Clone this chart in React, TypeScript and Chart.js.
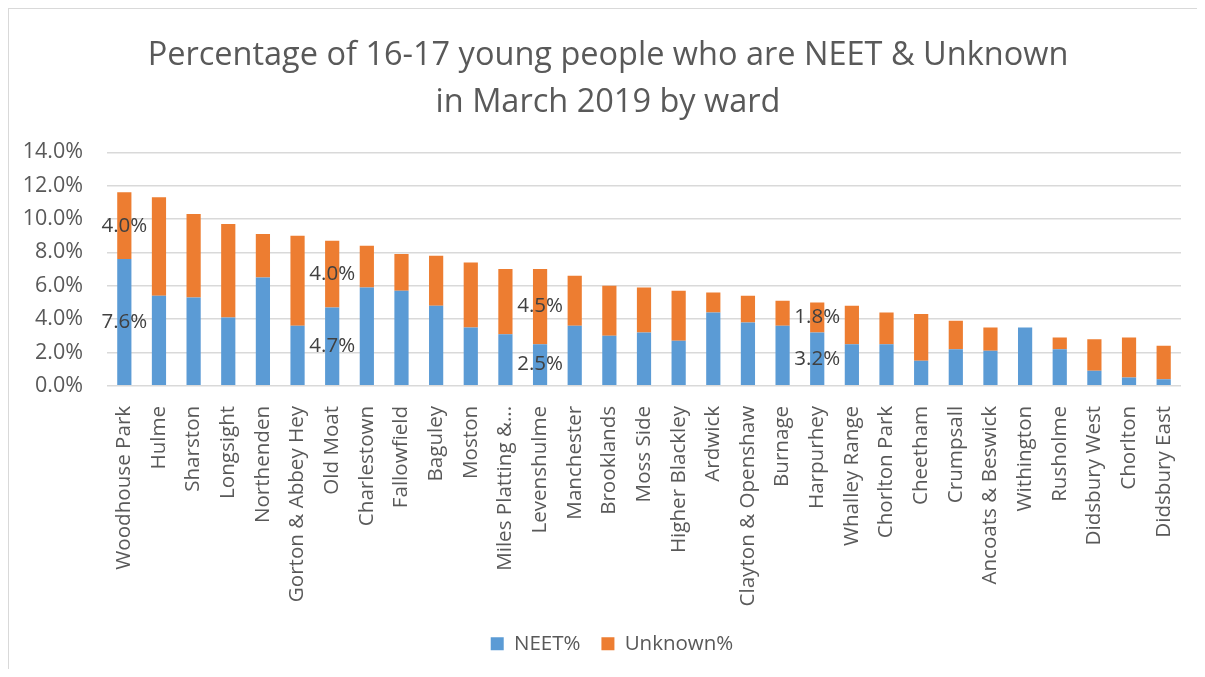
import React, { useEffect, useRef } from "react";
import { Chart, registerables } from "chart.js";

Chart.register(...registerables);

const wards = [
  "Woodhouse Park", "Hulme", "Sharston", "Longsight", "Northenden", "Gorton & Abbey Hey",
  "Old Moat", "Charlestown", "Fallowfield", "Baguley", "Moston", "Miles Platting & Newton Heath",
  "Levenshulme", "Manchester", "Brooklands", "Moss Side", "Higher Blackley", "Ardwick",
  "Clayton & Openshaw", "Burnage", "Harpurhey", "Whalley Range", "Chorlton Park", "Cheetham",
  "Crumpsall", "Ancoats & Beswick", "Withington", "Rusholme", "Didsbury West", "Chorlton",
  "Didsbury East",
];

const neetPct = [
  7.6, 5.4, 5.3, 4.1, 6.5, 3.6, 4.7, 5.9, 5.7, 4.8, 3.5, 3.1, 2.5, 3.6, 3.0, 3.2,
  2.7, 4.4, 3.8, 3.6, 3.2, 2.5, 2.5, 1.5, 2.2, 2.1, 3.5, 2.2, 0.9, 0.5, 0.4,
];

const unknownPct = [
  4.0, 5.9, 5.0, 5.6, 2.6, 5.4, 4.0, 2.5, 2.2, 3.0, 3.9, 3.9, 4.5, 3.0, 3.0, 2.7,
  3.0, 1.2, 1.6, 1.5, 1.8, 2.3, 1.9, 2.8, 1.7, 1.4, 0.0, 0.7, 1.9, 2.4, 2.0,
];

const labelledWards = ["Woodhouse Park", "Old Moat", "Levenshulme", "Harpurhey"];

const titleLines = [
  "Percentage of 16-17 young people who are NEET & Unknown",
  "in March 2019 by ward",
];

const yTicks = [0, 2, 4, 6, 8, 10, 12, 14];

const TEXT = "#595959";
const FAMILY = "'Open Sans', sans-serif";

const segmentLabels = {
  id: "segmentLabels",
  afterDatasetsDraw(chart: any) {
    const ctx = chart.ctx;
    ctx.save();
    ctx.font = "20.5px " + FAMILY;
    ctx.fillStyle = "#404040";
    ctx.textAlign = "center";
    ctx.textBaseline = "middle";
    chart.data.datasets.forEach((ds: any, di: number) => {
      const meta = chart.getDatasetMeta(di);
      labelledWards.forEach((w) => {
        const i = wards.indexOf(w);
        const el: any = meta.data[i];
        if (!el) return;
        const v = ds.data[i];
        ctx.fillText(v.toFixed(1) + "%", el.x, (el.y + el.base) / 2);
      });
    });
    ctx.restore();
  },
};

// Centre title and legend on the whole chart box (as Excel does) rather than on the padded area.
const recentre = {
  id: "recentre",
  afterLayout(chart: any) {
    if (chart.titleBlock) {
      chart.titleBlock.left += 6;
      chart.titleBlock.right += 6;
    }
    if (chart.legend) {
      chart.legend.left += 10;
      chart.legend.right += 10;
    }
  },
};

export default function App() {
  const ref = useRef<HTMLCanvasElement | null>(null);

  useEffect(() => {
    let chart: Chart | null = null;
    let cancelled = false;
    const build = () => {
      if (cancelled || !ref.current) return;
      Chart.defaults.font.family = FAMILY;
      chart = new Chart(ref.current, {
        type: "bar",
        data: {
          labels: wards,
          datasets: [
            {
              label: "NEET%",
              data: neetPct,
              backgroundColor: "#5B9BD5",
              barPercentage: 0.41,
              categoryPercentage: 1,
            },
            {
              label: "Unknown%",
              data: unknownPct,
              backgroundColor: "#ED7D31",
              barPercentage: 0.41,
              categoryPercentage: 1,
            },
          ],
        },
        options: {
          animation: false,
          responsive: true,
          maintainAspectRatio: false,
          layout: { padding: { left: 14, right: 24, bottom: 5, top: 0 } },
          plugins: {
            title: {
              display: true,
              text: titleLines,
              color: TEXT,
              font: { size: 32.5, weight: "normal", lineHeight: 1.45 },
              padding: { top: 23, bottom: 26 },
            },
            legend: {
              position: "bottom",
              labels: {
                color: TEXT,
                font: { size: 20.5 },
                boxWidth: 13,
                boxHeight: 13,
                padding: 21,
              },
            },
            tooltip: { enabled: false },
          },
          scales: {
            x: {
              stacked: true,
              grid: { display: false, drawTicks: false },
              border: { display: false },
              afterFit: (axis: any) => {
                axis.height -= 14;
                axis.paddingLeft = 0;
                axis.paddingRight = 0;
              },
              ticks: {
                color: TEXT,
                font: { size: 20.6 },
                minRotation: 90,
                maxRotation: 90,
                autoSkip: false,
                padding: 20,
                callback: (_v: any, i: number) => {
                  const s = wards[i];
                  return s.length > 18 ? s.slice(0, 16) + "..." : s;
                },
              },
            },
            y: {
              stacked: true,
              min: 0,
              max: 14,
              afterBuildTicks: (axis: any) => {
                axis.ticks = yTicks.map((v) => ({ value: v }));
              },
              afterFit: (axis: any) => {
                axis.width = 84;
              },
              grid: { color: "#D9D9D9", lineWidth: 1.5, drawTicks: false },
              border: { display: false },
              ticks: {
                color: TEXT,
                font: { size: 21.5 },
                padding: 24,
                callback: (v: any) => Number(v).toFixed(1) + "%",
              },
            },
          },
        },
        plugins: [segmentLabels, recentre],
      });
    };
    const fonts: any = (document as any).fonts;
    if (fonts && fonts.load) {
      Promise.all([
        fonts.load("20px 'Open Sans'"),
        fonts.load("33px 'Open Sans'"),
      ]).then(build, build);
    } else {
      build();
    }
    return () => {
      cancelled = true;
      if (chart) chart.destroy();
    };
  }, []);

  return (
    <div
      style={{
        width: 1197,
        height: 661,
        boxSizing: "border-box",
        borderTop: "1px solid #D9D9D9",
        borderLeft: "1px solid #D9D9D9",
        background: "#fff",
      }}
    >
      <div style={{ position: "relative", width: "100%", height: "100%" }}>
        <canvas ref={ref} />
      </div>
    </div>
  );
}
